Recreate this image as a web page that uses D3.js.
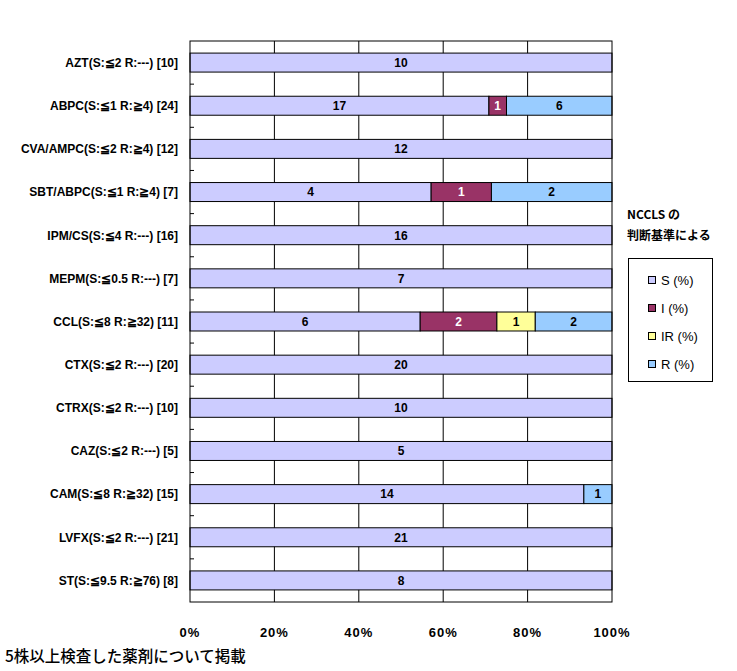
<!DOCTYPE html>
<html>
<head>
<meta charset="utf-8">
<script src="https://cdn.jsdelivr.net/npm/d3@7"></script>
<style>
  body { margin: 0; background: #fff; }
  svg { display: block; }
</style>
</head>
<body>
<div id="chart"></div>
<script>
const drugs = [
  'AZT(S:≦2 R:---) [10]',
  'ABPC(S:≦1 R:≧4) [24]',
  'CVA/AMPC(S:≦2 R:≧4) [12]',
  'SBT/ABPC(S:≦1 R:≧4) [7]',
  'IPM/CS(S:≦4 R:---) [16]',
  'MEPM(S:≦0.5 R:---) [7]',
  'CCL(S:≦8 R:≧32) [11]',
  'CTX(S:≦2 R:---) [20]',
  'CTRX(S:≦2 R:---) [10]',
  'CAZ(S:≦2 R:---) [5]',
  'CAM(S:≦8 R:≧32) [15]',
  'LVFX(S:≦2 R:---) [21]',
  'ST(S:≦9.5 R:≧76) [8]'
];
const seriesNames = ['S (%)', 'I (%)', 'IR (%)', 'R (%)'];
const seriesColors = ['#ccccff', '#993366', '#ffff99', '#99ccff'];
const countS  = [10, 17, 12, 4, 16, 7, 6, 20, 10, 5, 14, 21, 8];
const countI  = [0, 1, 0, 1, 0, 0, 2, 0, 0, 0, 0, 0, 0];
const countIR = [0, 0, 0, 0, 0, 0, 1, 0, 0, 0, 0, 0, 0];
const countR  = [0, 6, 0, 2, 0, 0, 2, 0, 0, 0, 1, 0, 0];
const xTicks = [0, 0.2, 0.4, 0.6, 0.8, 1];
const legendTitle = ['NCCLS の', '判断基準による'];
const footnote = '5株以上検査した薬剤について掲載';

const W = 737, H = 671;
const plot = { left: 190, right: 612, top: 41, bottom: 602 };
const labelFont = '"Liberation Sans Narrow", "Arial Narrow", "Liberation Sans", Arial, sans-serif';

const rows = drugs.map((name, i) => {
  const vals = [countS[i], countI[i], countIR[i], countR[i]];
  const total = d3.sum(vals);
  let acc = 0;
  const segs = vals.map((v, k) => {
    const s = { k, v, x0: acc / total, x1: (acc + v) / total };
    acc += v;
    return s;
  }).filter(s => s.v > 0);
  return { name, segs };
});

const svg = d3.select('#chart').append('svg')
  .attr('width', W).attr('height', H);

const x = d3.scaleLinear().domain([0, 1]).range([plot.left, plot.right]);
const y = d3.scaleBand().domain(drugs).range([plot.top, plot.bottom])
  .paddingInner(0.56).paddingOuter(0.28);

// gridlines
svg.append('g').selectAll('line')
  .data(xTicks.slice(1, -1))
  .join('line')
    .attr('x1', d => x(d)).attr('x2', d => x(d))
    .attr('y1', plot.top).attr('y2', plot.bottom)
    .attr('stroke', '#000').attr('stroke-width', 1);

// bars
const row = svg.append('g').selectAll('g')
  .data(rows)
  .join('g')
    .attr('transform', d => `translate(0,${y(d.name)})`);

row.selectAll('rect')
  .data(d => d.segs)
  .join('rect')
    .attr('x', d => x(d.x0))
    .attr('width', d => x(d.x1) - x(d.x0))
    .attr('height', y.bandwidth())
    .attr('fill', d => seriesColors[d.k])
    .attr('stroke', '#000').attr('stroke-width', 1);

row.selectAll('text')
  .data(d => d.segs)
  .join('text')
    .attr('x', d => (x(d.x0) + x(d.x1)) / 2)
    .attr('y', y.bandwidth() / 2)
    .attr('dy', '0.36em')
    .attr('text-anchor', 'middle')
    .attr('font-family', labelFont)
    .attr('font-weight', 'bold')
    .attr('font-size', '12px')
    .attr('fill', d => d.k === 1 ? '#fff' : '#000')
    .text(d => d.v);

// plot frame
svg.append('rect')
  .attr('x', plot.left).attr('y', plot.top)
  .attr('width', plot.right - plot.left).attr('height', plot.bottom - plot.top)
  .attr('fill', 'none').attr('stroke', '#000').attr('stroke-width', 1);

// inward ticks at category boundaries
svg.append('g').selectAll('line')
  .data(drugs.slice(1))
  .join('line')
    .attr('x1', plot.left).attr('x2', plot.left + 4)
    .attr('y1', d => y(d) - (y.step() - y.bandwidth()) / 2)
    .attr('y2', d => y(d) - (y.step() - y.bandwidth()) / 2)
    .attr('stroke', '#000');

// category labels
svg.append('g').selectAll('text')
  .data(drugs)
  .join('text')
    .attr('x', plot.left - 12)
    .attr('y', d => y(d) + y.bandwidth() / 2)
    .attr('dy', '0.36em')
    .attr('text-anchor', 'end')
    .attr('font-family', labelFont)
    .attr('font-weight', 'bold')
    .attr('font-size', '12px')
    .text(d => d);

// x tick labels
svg.append('g').selectAll('text')
  .data(xTicks)
  .join('text')
    .attr('x', d => x(d))
    .attr('y', 632)
    .attr('dy', '0.36em')
    .attr('text-anchor', 'middle')
    .attr('font-family', labelFont)
    .attr('font-weight', 'bold')
    .attr('font-size', '13px')
    .attr('letter-spacing', '1px')
    .text(d3.format('.0%'));

// legend
svg.append('g').selectAll('text')
  .data(legendTitle)
  .join('text')
    .attr('x', 627)
    .attr('y', (d, i) => 215 + i * 21)
    .attr('dy', '0.36em')
    .attr('font-family', '"Noto Sans CJK JP", sans-serif')
    .attr('font-weight', 'bold')
    .attr('font-size', '12px')
    .text(d => d);

const legend = svg.append('g');
legend.append('rect')
  .attr('x', 628.5).attr('y', 258.5).attr('width', 84).attr('height', 123)
  .attr('fill', '#fff').attr('stroke', '#000');

const item = legend.selectAll('g')
  .data(seriesNames)
  .join('g')
    .attr('transform', (d, i) => `translate(648,${280 + i * 28})`);
item.append('rect')
  .attr('x', 0.5).attr('y', -3.5).attr('width', 7).attr('height', 7)
  .attr('fill', (d, i) => seriesColors[i]).attr('stroke', '#000');
item.append('text')
  .attr('x', 13).attr('dy', '0.36em')
  .attr('font-family', '"Liberation Sans", Arial, sans-serif')
  .attr('font-size', '13px')
  .text(d => d);

// footnote
svg.append('text')
  .attr('x', 5).attr('y', 656)
  .attr('dy', '0.36em')
  .attr('font-family', '"Noto Sans CJK JP", sans-serif')
  .attr('font-size', '15.5px')
  .attr('font-weight', 500)
  .text(footnote);
</script>
</body>
</html>
